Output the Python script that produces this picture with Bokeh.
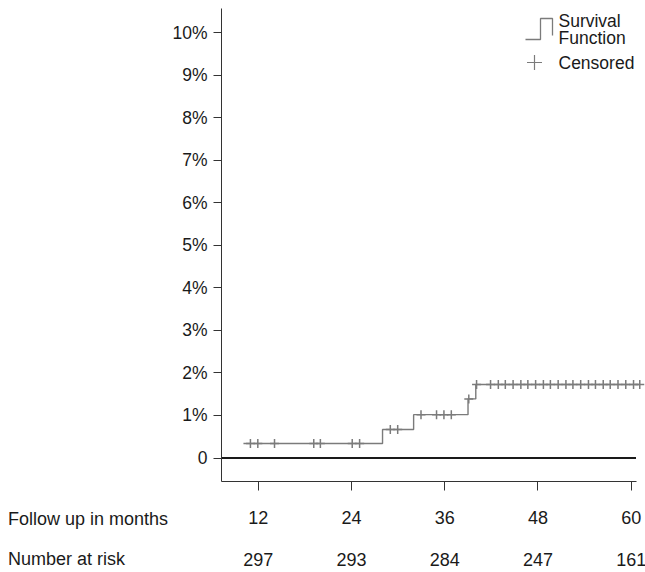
import numpy as np
from bokeh.plotting import figure
from bokeh.models import Range1d, FixedTicker, Label
from bokeh.core.properties import value
from bokeh.embed import file_html
from bokeh.resources import INLINE

# ---------------- data ----------------
# cumulative step curve (%), step "after" at each time (months)
step_times = [10.1, 28.0, 32.0, 39.0, 40.0, 61.15]
step_values = [0.34, 0.67, 1.02, 1.39, 1.73, 1.73]

# censoring times (months)
censor_times = [11.0, 11.95, 14.1, 19.15, 20.0, 24.1, 25.05, 29.0, 29.95,
                32.95, 34.95, 35.9, 36.85, 39.1, 40.1,
                41.9, 42.9, 43.8, 44.8, 45.8, 46.7, 47.7, 48.7, 49.6, 50.6,
                51.6, 52.5, 53.5, 54.5, 55.4, 56.4, 57.3, 58.3, 59.3, 60.3, 61.1]

x_ticks = [12, 24, 36, 48, 60]
at_risk = ["297", "293", "284", "247", "161"]
y_ticks = [0, 1, 2, 3, 4, 5, 6, 7, 8, 9, 10]
y_tick_labels = ["0", "1%", "2%", "3%", "4%", "5%", "6%", "7%", "8%", "9%", "10%"]
row_labels = ["Follow up in months", "Number at risk"]

# ---------------- styling / layout ----------------
FONT = "Liberation Sans"
TXT = "#1a1a1a"
GREY = "#7b7b7b"
AX = "#333333"

W, H = 645, 572
PX_12 = 257.7          # pixel of month 12
PX_PER_MONTH = 7.771
PX_Y0 = 457.5          # pixel of 0 %
PX_PER_PCT = 42.52
AX_L, AX_R, AX_T, AX_B = 221, 635.5, 8, 481


def px_to_month(px):
    return 12 + (px - PX_12) / PX_PER_MONTH


def px_to_pct(py):
    return (PX_Y0 - py) / PX_PER_PCT


p = figure(width=W, height=H, frame_width=W, frame_height=H,
           x_range=Range1d(px_to_month(0), px_to_month(W)),
           y_range=Range1d(px_to_pct(H), px_to_pct(0)),
           output_backend="svg", toolbar_location=None,
           min_border_left=0, min_border_right=0, min_border_top=0,
           min_border_bottom=0)
p.outline_line_color = None
p.xgrid.visible = False
p.ygrid.visible = False
p.background_fill_color = "white"
p.border_fill_color = "white"

X_AX_START, X_AX_END = px_to_month(AX_L), px_to_month(AX_R)

xa = p.xaxis[0]
xa.fixed_location = px_to_pct(AX_B)
xa.ticker = FixedTicker(ticks=x_ticks)
xa.bounds = (X_AX_START, X_AX_END)
xa.axis_line_color = AX
xa.major_tick_line_color = AX
xa.major_tick_out = 9
xa.major_tick_in = 0
xa.minor_tick_line_color = None
xa.major_label_text_font = FONT
xa.major_label_text_font_size = "18px"
xa.major_label_text_color = TXT
xa.major_label_standoff = 20

ya = p.yaxis[0]
ya.fixed_location = X_AX_START
ya.ticker = FixedTicker(ticks=y_ticks)
ya.bounds = (px_to_pct(AX_B), px_to_pct(AX_T))
ya.major_label_overrides = {t: l for t, l in zip(y_ticks, y_tick_labels)}
ya.axis_line_color = AX
ya.major_tick_line_color = AX
ya.major_tick_out = 8
ya.major_tick_in = 0
ya.minor_tick_line_color = None
ya.major_label_text_font = FONT
ya.major_label_text_font_size = "17.5px"
ya.major_label_text_color = TXT
ya.major_label_standoff = 6

# zero reference line
p.segment(x0=[X_AX_START], y0=[0], x1=[X_AX_END], y1=[0], line_color="#1a1a1a", line_width=2)

# step curve
p.step(step_times, step_values, mode="after", line_color=GREY, line_width=1.4)

# censor marks at the curve level
st = np.array(step_times)
sv = np.array(step_values)
idx = np.searchsorted(st, np.array(censor_times), side="right") - 1
p.scatter(censor_times, sv[idx], marker="cross", size=9, line_color=GREY, line_width=1.5)

# legend (drawn manually, positioned in pixels)
leg_px = [525, 540, 540, 552, 552]
leg_py = [39, 39, 18, 18, 35]
p.line([px_to_month(v) for v in leg_px], [px_to_pct(v) for v in leg_py],
       line_color=GREY, line_width=1.3)
p.scatter([px_to_month(534)], [px_to_pct(62)], marker="cross", size=15,
          line_color=GREY, line_width=1.2)
for txt, py in [("Survival", 20.5), ("Function", 37.5), ("Censored", 62)]:
    p.add_layout(Label(x=px_to_month(558), y=px_to_pct(py), text=txt, text_font=FONT,
                       text_font_size="17.5px", text_color=TXT,
                       text_baseline="middle", text_align="left"))

# bottom table rows
ROW1, ROW2 = px_to_pct(518.5), px_to_pct(558.5)
p.text(x=[px_to_month(7.5)] * 2, y=[ROW1, ROW2], text=row_labels,
       text_font=value(FONT), text_font_size="18px", text_color=TXT,
       text_baseline="middle", text_align="left")
p.text(x=x_ticks, y=[ROW2] * len(x_ticks), text=at_risk,
       text_font=value(FONT), text_font_size="18px", text_color=TXT,
       text_baseline="middle", text_align="center")

open("out.html", "w").write(file_html(p, INLINE))
